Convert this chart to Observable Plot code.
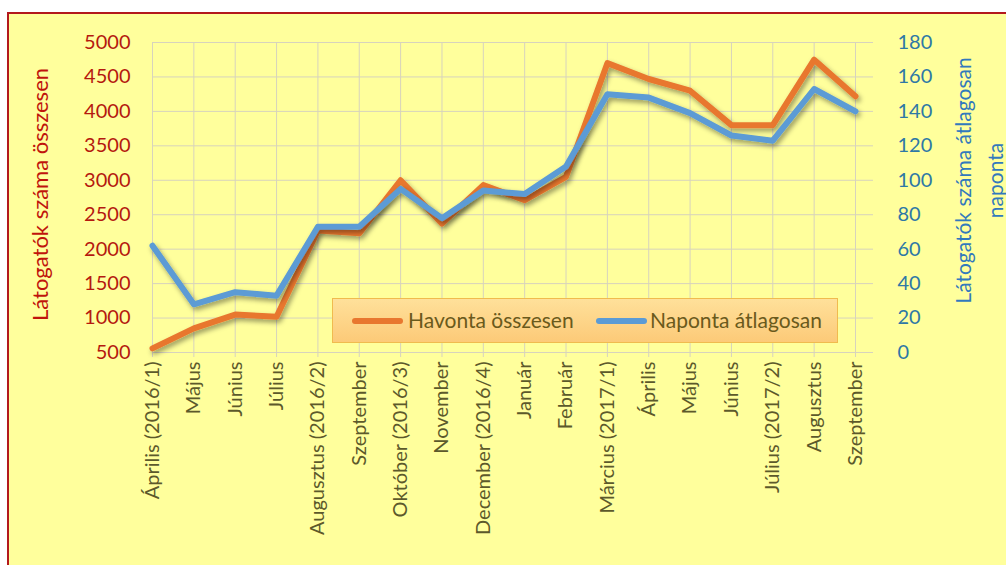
<!DOCTYPE html>
<html><head><meta charset="utf-8">
<script src="https://cdn.jsdelivr.net/npm/d3@7"></script>
<script src="https://cdn.jsdelivr.net/npm/@observablehq/plot@0.6"></script>
<style>
body{margin:0;background:#fff;width:1006px;height:565px;overflow:hidden;position:relative;font-family:Lato,sans-serif}
#bg{position:absolute;left:7px;top:12px;width:1010px;height:560px;background:#ffff9c;border-left:2px solid #b3191c;border-top:2px solid #b3191c}
#chart{position:absolute;left:0;top:0}
#legend{position:absolute;left:332px;top:298px;width:504px;height:43px;border:1px solid #f0bb4e;background:linear-gradient(#ffe09a,#fcca78);font-size:21px;color:#6a5a1c}
#legend .sw{position:absolute;top:19px;width:51px;height:6px;border-radius:3px}
#legend .tx{position:absolute;top:8px;line-height:26px;white-space:nowrap}
</style></head>
<body>
<div id="bg"></div>
<div id="chart"></div>
<div id="legend">
  <span class="sw" style="left:19px;background:#e8772f"></span><span class="tx" style="left:75px">Havonta összesen</span>
  <span class="sw" style="left:263px;background:#5b9bd5"></span><span class="tx" style="left:317px">Naponta átlagosan</span>
</div>
<script>
const categories = ["Április (2016/1)","Május","Június","Július","Augusztus (2016/2)","Szeptember","Október (2016/3)","November","December (2016/4)","Január","Február","Március (2017/1)","Április","Május","Június","Július (2017/2)","Augusztus","Szeptember"];
const havonta = [560, 850, 1050, 1020, 2270, 2230, 3000, 2370, 2930, 2710, 3050, 4700, 4470, 4300, 3800, 3800, 4750, 4220];
const naponta = [62, 28, 35, 33, 73, 73, 95, 78, 94, 92, 108, 150, 148, 139, 126, 123, 153, 140];
const leftTicks = [500,1000,1500,2000,2500,3000,3500,4000,4500,5000];
const rightTicks = [0,20,40,60,80,100,120,140,160,180];

const toLeft = v => 500 + v * 4500 / 180;
const rows = categories.map((c, i) => ({i, c, h: havonta[i], n: toLeft(naponta[i])}));
const grid = "#d7d3bd";

const chart = Plot.plot({
  width: 1006, height: 565,
  marginLeft: 152, marginRight: 133, marginTop: 42, marginBottom: 213,
  style: {background: "transparent", fontFamily: "Lato, sans-serif"},
  x: {type: "linear", domain: [0, 17], range: [152, 855]},
  y: {domain: [500, 5000]},
  marks: [
    Plot.ruleY(leftTicks, {stroke: grid, strokeWidth: 1}),
    Plot.ruleX(d3.range(categories.length), {stroke: grid, strokeWidth: 1, y1: 500, y2: 5000}),
    Plot.axisX(d3.range(categories.length), {tickFormat: i => categories[i], tickRotate: -90, tickSize: 5, tickPadding: 4, fontSize: 20, stroke: grid, fill: "#5c592b", label: null}),
    Plot.axisY(leftTicks, {anchor: "left", tickSize: 0, tickPadding: 22, fontSize: 20, fill: "#b5190f", label: null, tickFormat: v => String(v)}),
    Plot.axisY(rightTicks.map(toLeft), {anchor: "right", tickSize: 0, tickPadding: 24, fontSize: 20, fill: "#2e78a6", label: null, tickFormat: v => String(Math.round((v - 500) * 180 / 4500))}),
    Plot.text(["Látogatók száma összesen"], {frameAnchor: "left", textAnchor: "middle", dx: -112, dy: -3, rotate: -90, fontSize: 22, fill: "#c0140c"}),
    Plot.text(["Látogatók száma átlagosan\nnaponta"], {frameAnchor: "right", textAnchor: "middle", dx: 103, dy: -17, rotate: -90, fontSize: 21, lineHeight: 1.55, fill: "#3279bd"}),
    Plot.lineY(rows, {x: "i", y: "h", stroke: "#e8772f", strokeWidth: 6, strokeLinejoin: "round", strokeLinecap: "round"}),
    Plot.lineY(rows, {x: "i", y: "n", stroke: "#5b9bd5", strokeWidth: 6, strokeLinejoin: "round", strokeLinecap: "round"})
  ]
});
const svg = d3.select(chart);
const defs = svg.insert("defs", ":first-child");
const f = defs.append("filter").attr("id", "shadow").attr("x", "-5%").attr("y", "-20%").attr("width", "115%").attr("height", "150%");
f.append("feDropShadow").attr("dx", 2).attr("dy", 3).attr("stdDeviation", 2.5).attr("flood-color", "#000").attr("flood-opacity", 0.4);
svg.selectAll('g[aria-label="line"]').attr("filter", "url(#shadow)");
document.getElementById("chart").appendChild(chart);
</script>
</body></html>
